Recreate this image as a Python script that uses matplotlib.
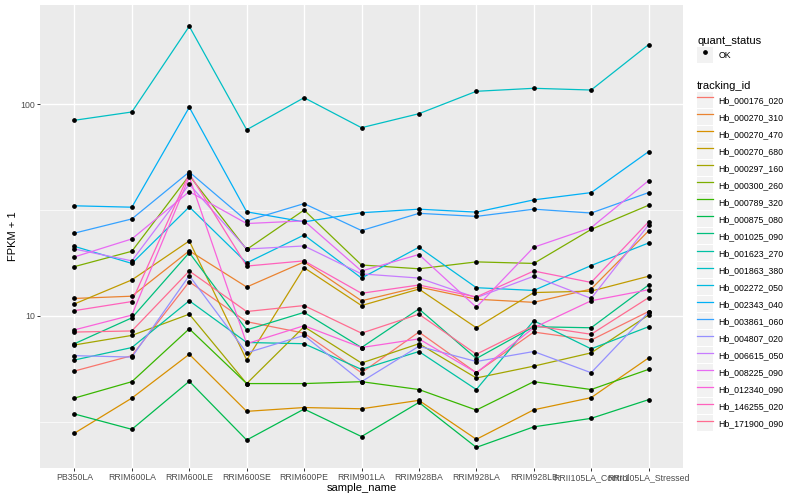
import matplotlib
matplotlib.use('Agg')
import matplotlib.pyplot as plt
import numpy as np
from matplotlib.legend_handler import HandlerLine2D
from matplotlib.patches import Rectangle
from matplotlib.lines import Line2D
from matplotlib.ticker import FixedLocator, NullFormatter

plt.rcParams['font.family'] = ['Liberation Sans', 'DejaVu Sans']

samples = ['PB350LA', 'RRIM600LA', 'RRIM600LE', 'RRIM600SE', 'RRIM600PE',
           'RRIM901LA', 'RRIM928BA', 'RRIM928LA', 'RRIM928LB',
           'RRII105LA_Control', 'RRII105LA_Stressed']

tracking_ids = ['Hb_000176_020', 'Hb_000270_310', 'Hb_000270_470', 'Hb_000270_680',
                'Hb_000297_160', 'Hb_000300_260', 'Hb_000789_320', 'Hb_000875_080',
                'Hb_001025_090', 'Hb_001623_270', 'Hb_001863_380', 'Hb_002272_050',
                'Hb_002343_040', 'Hb_003861_060', 'Hb_004807_020', 'Hb_006615_050',
                'Hb_008225_090', 'Hb_012340_090', 'Hb_146255_020', 'Hb_171900_090']

# ggplot hue palette, 20 levels
colors = ['#F8766D', '#EA8331', '#D89000', '#C09B00', '#A3A500', '#7CAE00',
          '#39B600', '#00BB4E', '#00BF7D', '#00C1A3', '#00BFC4', '#00BAE0',
          '#00B0F6', '#35A2FF', '#9590FF', '#C77CFF', '#E76BF3', '#FA62DB',
          '#FF62BC', '#FF6C91']

# FPKM per sample (same order as samples)
hb_000176_020 = [4.5, 5.5, 13.5, 8.4, 7.3, 4.4, 7.4, 4.4, 7.4, 6.7, 9.5]
hb_000270_310 = [11.1, 11.4, 19.3, 12.7, 17.0, 10.8, 12.7, 11.0, 10.6, 12.4, 24.2]
hb_000270_470 = [1.8, 3.1, 5.6, 2.55, 2.7, 2.65, 3.0, 1.62, 2.61, 3.12, 5.34]
hb_000270_680 = [10.4, 13.8, 21.6, 5.2, 15.9, 10.2, 12.4, 7.8, 11.9, 12.1, 14.4]
hb_000297_160 = [6.3, 7.1, 9.2, 3.8, 7.9, 5.0, 6.4, 4.1, 4.8, 5.7, 9.1]
hb_000300_260 = [16.1, 19.2, 45.0, 19.6, 30.6, 16.4, 15.7, 17.0, 16.7, 24.6, 32.3]
hb_000789_320 = [3.1, 3.9, 7.7, 3.8, 3.8, 3.9, 3.5, 2.6, 3.9, 3.5, 4.6]
hb_000875_080 = [2.45, 1.92, 3.92, 1.60, 2.64, 1.70, 2.91, 1.40, 2.00, 2.29, 3.03]
hb_001025_090 = [6.4, 8.8, 18.9, 7.6, 9.4, 6.1, 9.8, 5.3, 7.9, 7.8, 13.0]
hb_001623_270 = [5.2, 6.1, 10.8, 6.5, 6.4, 4.6, 5.8, 3.5, 8.5, 6.0, 7.9]
hb_001863_380 = [82.8, 90.7, 231.6, 74.6, 106.1, 76.3, 89.0, 113.8, 117.6, 115.4, 189.5]
hb_002272_050 = [20.3, 16.7, 31.7, 16.8, 23.1, 14.1, 20.1, 12.6, 12.2, 16.3, 21.1]
hb_002343_040 = [32.1, 31.6, 95.5, 30.0, 26.8, 29.7, 30.9, 29.9, 34.3, 37.2, 58.6]
hb_003861_060 = [23.6, 27.7, 46.8, 27.1, 32.9, 24.3, 29.5, 28.5, 30.9, 29.6, 37.2]
hb_004807_020 = [5.5, 5.4, 14.5, 5.7, 7.1, 3.9, 6.2, 5.1, 5.8, 4.4, 9.4]
hb_006615_050 = [19.7, 17.2, 40.8, 19.7, 20.4, 14.8, 14.1, 11.2, 14.4, 11.1, 25.9]
hb_008225_090 = [18.0, 22.1, 37.6, 26.3, 27.1, 15.3, 18.5, 10.0, 20.1, 25.1, 42.5]
hb_012340_090 = [7.6, 9.1, 44.3, 6.4, 8.0, 6.1, 6.8, 4.4, 7.8, 10.8, 12.3]
hb_146255_020 = [9.6, 10.7, 46.0, 16.2, 17.2, 11.8, 13.0, 11.3, 15.3, 13.4, 26.8]
hb_171900_090 = [7.4, 7.5, 15.3, 9.5, 10.2, 7.3, 9.2, 5.6, 8.0, 7.2, 11.2]

series = [hb_000176_020, hb_000270_310, hb_000270_470, hb_000270_680, hb_000297_160,
          hb_000300_260, hb_000789_320, hb_000875_080, hb_001025_090, hb_001623_270,
          hb_001863_380, hb_002272_050, hb_002343_040, hb_003861_060, hb_004807_020,
          hb_006615_050, hb_008225_090, hb_012340_090, hb_146255_020, hb_171900_090]


class KeyHandler(HandlerLine2D):
    # legend key with the grey ggplot box behind it
    def create_artists(self, legend, orig_handle, xdescent, ydescent,
                       width, height, fontsize, trans):
        arts = super().create_artists(legend, orig_handle, xdescent, ydescent,
                                      width, height, fontsize, trans)
        bg = Rectangle((-xdescent, -ydescent), width, height, transform=trans,
                       facecolor='#F2F2F2', edgecolor='none')
        return [bg] + list(arts)


fig = plt.figure(figsize=(8, 5), dpi=100)
ax = fig.add_axes([40/800, 1 - 468/500, 643/800, 463/500])
ax.set_facecolor('#EBEBEB')

x = np.arange(len(samples))
for vals, col in zip(series, colors):
    ax.plot(x, np.array(vals) + 1, color=col, lw=0.9, zorder=2)
for vals in series:
    ax.plot(x, np.array(vals) + 1, ls='none', marker='o', ms=2.4,
            color='black', zorder=3)

ax.set_yscale('log')
ax.set_ylim(10**0.283, 10**2.467)
ax.set_xlim(-0.6, len(samples) - 0.4)
ax.set_xticks(x)
ax.set_xticklabels(samples)
ax.yaxis.set_major_locator(FixedLocator([10, 100]))
ax.set_yticklabels(['10', '100'])
ax.yaxis.set_minor_locator(FixedLocator([10**0.5, 10**1.5]))
ax.yaxis.set_minor_formatter(NullFormatter())

ax.grid(which='major', color='white', lw=1.0)
ax.grid(which='minor', axis='y', color='white', lw=0.5)
ax.set_axisbelow(True)
for s in ax.spines.values():
    s.set_visible(False)
ax.tick_params(which='major', length=2.0, width=0.7, color='#333333',
               labelsize=6.3, labelcolor='#4D4D4D', pad=1.6)
ax.tick_params(which='minor', length=0)

ax.set_xlabel('sample_name', fontsize=8, labelpad=0.5)
ax.set_ylabel('FPKM + 1', fontsize=8, labelpad=1.5)

leg_kw = dict(loc='upper left', frameon=False, fontsize=6.3, title_fontsize=8,
              alignment='left', handlelength=1.85, handleheight=2.43,
              handletextpad=0.6, borderpad=0, labelspacing=0.12, borderaxespad=0)

ok_handle = Line2D([], [], ls='none', marker='o', ms=2.4, color='black')
leg1 = fig.legend([ok_handle], ['OK'], title='quant_status',
                  bbox_to_anchor=(697/800, 1 - 36/500),
                  handler_map={Line2D: KeyHandler(numpoints=1)}, **leg_kw)

line_handles = [Line2D([], [], color=c, lw=0.9) for c in colors]
leg2 = fig.legend(line_handles, tracking_ids, title='tracking_id',
                  bbox_to_anchor=(697/800, 1 - 81/500),
                  handler_map={Line2D: KeyHandler()}, **leg_kw)

fig.savefig('out.png', dpi=100)
